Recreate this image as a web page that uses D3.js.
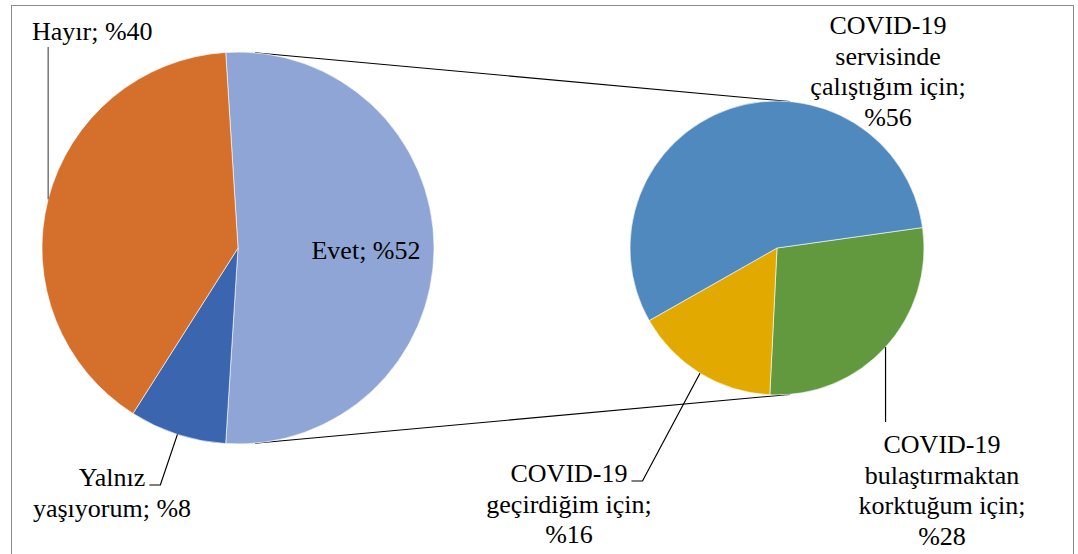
<!DOCTYPE html>
<html lang="tr">
<head>
<meta charset="UTF-8">
<title>Pie of pie</title>
<script src="https://d3js.org/d3.v7.min.js"></script>
<style>
  body { margin: 0; background: #fff; }
</style>
</head>
<body>
<svg id="chart" width="1078" height="554"></svg>
<script>
// main pie (Evet is the slice broken out into the second pie)
const mainLabels = ['Evet', 'Yalnız yaşıyorum', 'Hayır'];
const mainValues = [52, 8, 40];
const mainColors = ['#8fa5d6', '#3c65af', '#d5702c'];

// second pie: reasons behind "Evet"
const subLabels = ['COVID-19 bulaştırmaktan korktuğum için', 'COVID-19 geçirdiğim için', 'COVID-19 servisinde çalıştığım için'];
const subValues = [28, 16, 56];
const subColors = ['#62993f', '#e2aa00', '#4f89bd'];

// label text lines, same order as above
const mainText = [['Evet; %52'], ['Yalnız', 'yaşıyorum; %8'], ['Hayır; %40']];
const subText = [['COVID-19', 'bulaştırmaktan', 'korktuğum için;', '%28'],
                 ['COVID-19', 'geçirdiğim için;', '%16'],
                 ['COVID-19', 'servisinde', 'çalıştığım için;', '%56']];

const FONT = "'Liberation Serif', 'DejaVu Serif', serif";
const svg = d3.select('#chart');
const deg = Math.PI / 180;

// frame
svg.append('rect')
    .attr('x', 11.5).attr('y', 5.5)
    .attr('width', 1062).attr('height', 560)
    .attr('fill', 'none').attr('stroke', '#8a8a8a').attr('stroke-width', 1);

const L = { cx: 238, cy: 248, r: 196 };
const R = { cx: 777, cy: 248, r: 147 };

// Evet is centred on 3 o'clock
const evetSpan = mainValues[0] / 100 * 360;
const pieMain = d3.pie().sort(null).value(d => d)
    .startAngle((90 - evetSpan / 2) * deg).endAngle((450 - evetSpan / 2) * deg);
const pieSub = d3.pie().sort(null).value(d => d)
    .startAngle(82 * deg).endAngle(442 * deg);

const mainArcs = pieMain(mainValues);
const subArcs = pieSub(subValues);

function pt(c, a, r) {
    return [c.cx + r * Math.sin(a), c.cy - r * Math.cos(a)];
}

// connector lines between the pies
const conn = [5 * deg, 175 * deg];
svg.append('g').selectAll('line').data(conn).join('line')
    .attr('x1', a => pt(L, a, L.r)[0]).attr('y1', a => pt(L, a, L.r)[1])
    .attr('x2', a => pt(R, a, R.r)[0]).attr('y2', a => pt(R, a, R.r)[1])
    .attr('stroke', '#000').attr('stroke-width', 1.1);

const arcL = d3.arc().innerRadius(0).outerRadius(L.r);
const arcR = d3.arc().innerRadius(0).outerRadius(R.r);

svg.append('g').attr('transform', `translate(${L.cx},${L.cy})`)
    .selectAll('path').data(mainArcs).join('path')
    .attr('d', arcL).attr('fill', (d, i) => mainColors[i])
    .attr('stroke', '#fff').attr('stroke-width', 0.6);

svg.append('g').attr('transform', `translate(${R.cx},${R.cy})`)
    .selectAll('path').data(subArcs).join('path')
    .attr('d', arcR).attr('fill', (d, i) => subColors[i])
    .attr('stroke', '#fff').attr('stroke-width', 0.6);

// label placement (centre / start x, first baseline, text-anchor, leader)
const lh = 30.5;
const mainPos = [
    { x: 366, y: 259, anchor: 'middle', leader: null },
    { x: 112, y: 486, anchor: 'middle', leader: 'tick' },
    { x: 32, y: 40, anchor: 'start', leader: 'top' }
];
const subPos = [
    { x: 942, y: 453, anchor: 'middle', leader: 'down' },
    { x: 569, y: 482, anchor: 'middle', leader: 'tick' },
    { x: 888, y: 34, anchor: 'middle', leader: null }
];

function drawLabels(arcs, pos, texts, c) {
    arcs.forEach((d, i) => {
        const p = pos[i];
        const t = svg.append('text')
            .attr('text-anchor', p.anchor)
            .attr('font-family', FONT)
            .attr('font-size', 26)
            .attr('fill', '#000');
        texts[i].forEach((s, j) => {
            t.append('tspan').attr('x', p.x).attr('y', p.y + j * lh).text(s);
        });
        if (!p.leader) return;
        const mid = (d.startAngle + d.endAngle) / 2;
        const e = pt(c, mid, c.r);
        let pts;
        if (p.leader === 'tick') {
            // width of the first line only
            const w = t.select('tspan').node().getComputedTextLength();
            const x0 = p.x + w / 2 + 4;
            pts = [[x0, p.y - 1], [x0 + 11, p.y - 1], e];
        } else if (p.leader === 'top') {
            pts = [[e[0], p.y + 7], e];
        } else {
            pts = [[e[0], p.y - 31], e];
        }
        svg.append('path').attr('d', d3.line()(pts))
            .attr('fill', 'none').attr('stroke', p.leader === 'top' ? '#555' : '#000').attr('stroke-width', 1.2);
    });
}

drawLabels(mainArcs, mainPos, mainText, L);
drawLabels(subArcs, subPos, subText, R);
</script>
</body>
</html>
